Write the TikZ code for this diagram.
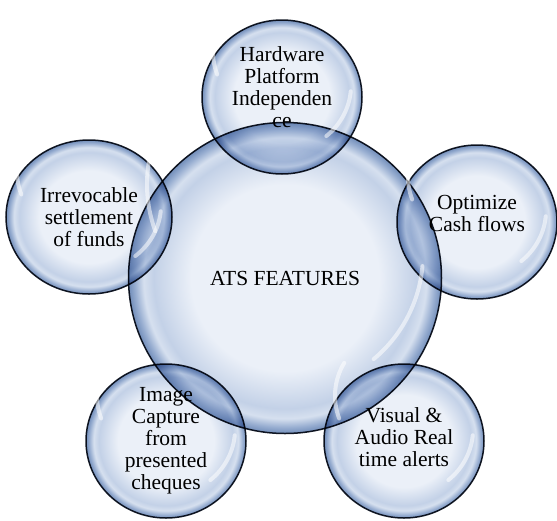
\documentclass[tikz,border=0pt]{standalone}
\usepackage{fontspec}
\setmainfont{Liberation Serif}
\usepackage{tikz}
\usetikzlibrary{shapes.geometric}

\definecolor{bubcore}{HTML}{EBF0F8}
\definecolor{bubmid}{HTML}{C3D1E7}
\definecolor{bubring}{HTML}{D6E0EF}
\definecolor{bubrim}{HTML}{98AED1}
\definecolor{bubedge}{HTML}{728EBA}
\definecolor{bubline}{HTML}{141A26}

\pgfdeclareradialshading{bubble}{\pgfpoint{0bp}{0bp}}{color(0bp)=(bubcore); color(15bp)=(bubcore); color(21bp)=(bubmid); color(22.6bp)=(bubring); color(24bp)=(bubrim); color(25bp)=(bubedge); color(50bp)=(bubedge)}

\begin{document}
\begin{tikzpicture}[x=1pt,y=-1pt]

\tikzset{bubble/.style = {shape=ellipse,shade,shading=bubble,draw=bubline,line width=1.5pt,
  inner sep=0pt,align=center,font=\fontsize{21.5}{22}\selectfont}}
\tikzset{hub/.style = {bubble,minimum width=313pt,minimum height=311pt}}
\tikzset{feature/.style = {bubble,minimum width=160pt,minimum height=154pt}}
\tikzset{glint/.style = {white,line width=4pt,line cap=round,opacity=.55}}

\useasboundingbox (0,0) rectangle (557,520);

\begin{scope}[blend mode=multiply]
% centre
\node[hub] (ats) at (285,278) {ATS FEATURES};

% features
\node[feature,text depth=20pt] (hw) at (282,97) {Hardware\\Platform\\Independen\\ce};
\node[feature,text depth=18pt] (cash) at (477,222) {Optimize\\Cash flows};
\node[feature,text depth=8pt] (alerts) at (404,441) {Visual \&\\Audio Real\\time alerts};
\node[feature] (image) at (166,441) {Image\\Capture\\from\\presented\\cheques};
\node[feature,minimum width=166pt] (funds) at (89,217) {Irrevocable\\settlement\\of funds};
\end{scope}

% highlights
\foreach \n/\rx/\ry in {ats/138/137,hw/69/66,cash/69/66,alerts/69/66,image/69/66,funds/72/66} {
  \draw[glint] ([shift={(160:\rx pt and \ry pt)}]\n.center) arc[start angle=160, end angle=210, x radius=\rx, y radius=\ry];
  \draw[glint] ([shift={(5:\rx pt and \ry pt)}]\n.center) arc[start angle=5, end angle=50, x radius=\rx, y radius=\ry];
}

\end{tikzpicture}
\end{document}
